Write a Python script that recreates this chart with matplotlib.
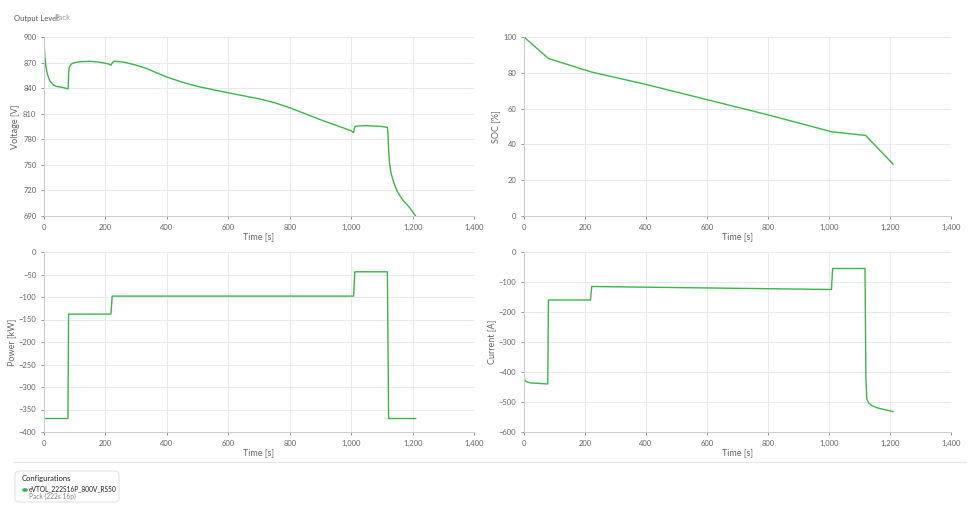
import matplotlib
matplotlib.use("Agg")
import matplotlib.pyplot as plt
from matplotlib.patches import FancyBboxPatch
from matplotlib.ticker import FuncFormatter

plt.rcParams['font.family'] = ['Lato', 'DejaVu Sans']

v_t = [0, 1, 3, 6, 10, 15, 20, 30, 40, 60, 78, 79, 80, 82, 86, 90, 100, 120, 150, 180, 210, 218, 222, 226, 230, 260, 300, 330, 360, 400, 450, 500, 600, 700, 750, 800, 900, 1000, 1008, 1010, 1013, 1020, 1050, 1100, 1118, 1120, 1122, 1125, 1130, 1140, 1150, 1160, 1170, 1190, 1210]
v_v = [895, 888, 876, 866, 858, 852, 848, 844, 842, 841, 839, 842, 857, 864, 867, 868.5, 870, 871, 871.5, 870.5, 868.5, 867, 869.5, 871, 871.5, 870.5, 867, 863.5, 859, 853, 847, 842, 834.5, 827.5, 823, 817, 803, 790, 788, 792, 795, 795.5, 796, 795, 794, 785, 768, 752, 740, 728, 719, 713, 708, 700, 690]

soc_t = [0, 80, 220, 400, 600, 800, 1010, 1120, 1210]
soc_v = [100, 88, 80.5, 73.5, 65, 56.5, 47, 45, 29]

p_t = [0, 78, 80, 218, 222, 1008, 1012, 1118, 1122, 1210]
p_v = [-370, -370, -138, -138, -98, -98, -44, -44, -370, -370]

i_t = [0, 2, 5, 10, 20, 30, 50, 78, 80, 218, 222, 1008, 1012, 1118, 1121, 1124, 1130, 1140, 1160, 1185, 1210]
i_v = [-418, -425, -430, -433, -436, -437, -438, -440, -160, -160, -115, -125, -55, -55, -420, -490, -503, -512, -520, -526, -532]

green = '#3cb54a'
grid = '#e8e8f0'
tcol = '#666666'

fig = plt.figure(figsize=(9.8, 5.25), dpi=100)
W, H = 980, 525

def mk(x0, x1, y0, y1):
    return fig.add_axes([x0 / W, 1 - y1 / H, (x1 - x0) / W, (y1 - y0) / H])

fmt = FuncFormatter(lambda x, p: f"{int(x):,}")
specs = [
    (mk(44, 474, 37, 216), v_t, v_v, 'Voltage [V]', (690, 900), range(690, 901, 30)),
    (mk(524, 951, 37, 216), soc_t, soc_v, 'SOC [%]', (0, 100), range(0, 101, 20)),
    (mk(44, 474, 252, 432), p_t, p_v, 'Power [kW]', (-400, 0), range(-400, 1, 50)),
    (mk(524, 951, 252, 432), i_t, i_v, 'Current [A]', (-600, 0), range(-600, 1, 100)),
]
for ax, t, v, yl, ylim, yt in specs:
    ax.plot(t, v, color=green, lw=1.0)
    ax.set_xlim(0, 1400)
    ax.set_ylim(*ylim)
    ax.set_xticks(range(0, 1401, 200))
    ax.set_yticks(list(yt))
    ax.xaxis.set_major_formatter(fmt)
    ax.grid(True, color=grid, lw=0.7)
    ax.set_axisbelow(True)
    for s in ['top', 'right']:
        ax.spines[s].set_visible(False)
    for s in ['left', 'bottom']:
        ax.spines[s].set_color('#cccccc')
        ax.spines[s].set_linewidth(0.7)
    ax.tick_params(labelsize=5.5, colors=tcol, length=2, width=0.5)
    ax.set_xlabel('Time [s]', fontsize=6.5, color=tcol, labelpad=1)
    ax.set_ylabel(yl, fontsize=6.5, color=tcol, labelpad=2)

fig.text(14 / W, 1 - 18 / H, 'Output Level:', fontsize=5.5, color='#555555', va='center')
fig.text(54 / W, 1 - 18 / H, 'Pack', fontsize=5.5, color='#999999', va='center')

fig.add_artist(plt.Line2D([14 / W, 966 / W], [1 - 462 / H, 1 - 462 / H], color='#e6e6e6', lw=0.8))
box = FancyBboxPatch((15 / W, 1 - 502 / H), 104 / W, 31 / H, boxstyle='round,pad=0,rounding_size=0.006',
                     transform=fig.transFigure, fc='white', ec='#e0e0e0', lw=0.7)
fig.add_artist(box)
fig.text(22 / W, 1 - 479 / H, 'Configurations', fontsize=5.5, color='#222222', va='center')
fig.add_artist(plt.Circle((25 / W, 1 - 490 / H), 0.0022, transform=fig.transFigure, color=green))
fig.text(29 / W, 1 - 489 / H, 'eVTOL_222S16P_800V_RS50', fontsize=4.8, color='#222222', va='center')
fig.text(29 / W, 1 - 496 / H, 'Pack (222s 16p)', fontsize=4.8, color='#888888', va='center')

fig.savefig('out.png', dpi=100, facecolor='white')
